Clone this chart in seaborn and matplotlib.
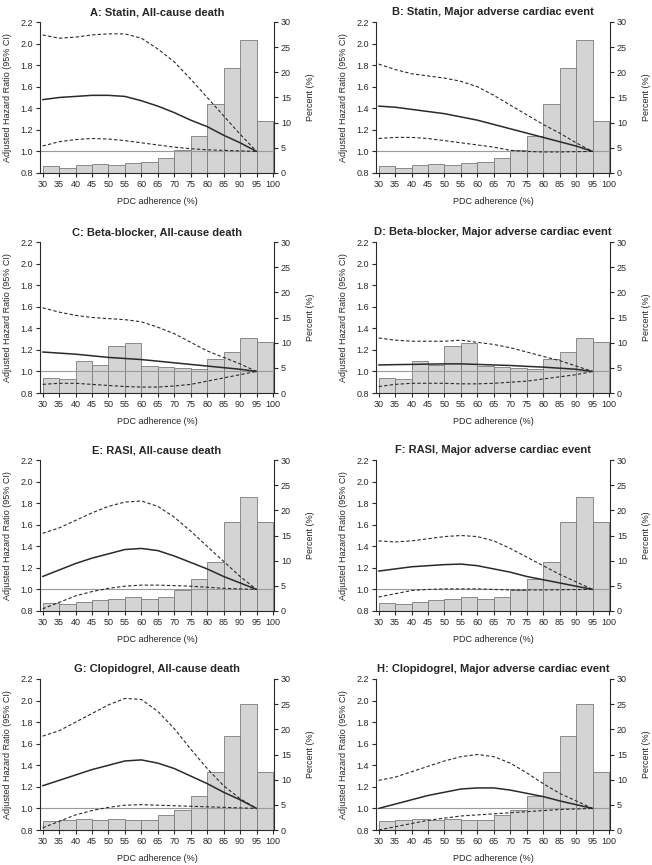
import numpy as np
import matplotlib
matplotlib.use("Agg")
import matplotlib.pyplot as plt
import seaborn as sns

# ── data ────────────────────────────────────────────────────
pdc = [30, 35, 40, 45, 50, 55, 60, 65, 70, 75, 80, 85, 90, 95]
bin_mid = [32.5, 37.5, 42.5, 47.5, 52.5, 57.5, 62.5, 67.5, 72.5, 77.5, 82.5, 87.5, 92.5, 97.5]
bin_edges = [30, 35, 40, 45, 50, 55, 60, 65, 70, 75, 80, 85, 90, 95, 100]

statin_pct = [1.3, 1.0, 1.5, 1.8, 1.5, 2.05, 2.25, 3.0, 4.6, 7.35, 13.8, 20.8, 26.4, 10.3]
beta_pct   = [3.0, 2.8, 6.4, 5.6, 9.3, 9.9, 5.4, 5.1, 5.0, 4.8, 6.8, 8.2, 10.9, 10.2]
rasi_pct   = [1.65, 1.45, 1.85, 2.25, 2.3, 2.7, 2.45, 2.75, 4.1, 6.45, 9.75, 17.7, 22.7, 17.7]
clop_pct   = [1.85, 1.95, 2.2, 2.0, 2.2, 1.95, 2.0, 3.0, 4.0, 6.8, 11.5, 18.7, 25.1, 11.55]

A_hr = [1.48, 1.50, 1.51, 1.52, 1.52, 1.51, 1.47, 1.42, 1.36, 1.29, 1.23, 1.15, 1.08, 1.0]
A_hi = [2.08, 2.05, 2.06, 2.08, 2.09, 2.09, 2.05, 1.95, 1.83, 1.67, 1.50, 1.33, 1.16, 1.0]
A_lo = [1.05, 1.09, 1.11, 1.12, 1.115, 1.10, 1.08, 1.06, 1.04, 1.025, 1.015, 1.01, 1.005, 1.0]

B_hr = [1.42, 1.41, 1.39, 1.37, 1.35, 1.32, 1.29, 1.25, 1.21, 1.17, 1.13, 1.09, 1.05, 1.0]
B_hi = [1.81, 1.76, 1.72, 1.70, 1.68, 1.65, 1.60, 1.52, 1.43, 1.34, 1.25, 1.17, 1.08, 1.0]
B_lo = [1.12, 1.13, 1.13, 1.12, 1.10, 1.08, 1.06, 1.04, 1.01, 1.0, 0.995, 0.995, 0.998, 1.0]

C_hr = [1.18, 1.17, 1.16, 1.145, 1.13, 1.12, 1.11, 1.095, 1.08, 1.065, 1.05, 1.035, 1.02, 1.0]
C_hi = [1.59, 1.55, 1.52, 1.50, 1.49, 1.48, 1.46, 1.41, 1.35, 1.27, 1.19, 1.13, 1.07, 1.0]
C_lo = [0.88, 0.89, 0.89, 0.88, 0.87, 0.86, 0.855, 0.855, 0.865, 0.88, 0.91, 0.94, 0.97, 1.0]

D_hr = [1.06, 1.063, 1.065, 1.068, 1.07, 1.07, 1.065, 1.06, 1.055, 1.047, 1.04, 1.03, 1.02, 1.0]
D_hi = [1.31, 1.29, 1.28, 1.28, 1.28, 1.29, 1.27, 1.25, 1.22, 1.18, 1.14, 1.10, 1.05, 1.0]
D_lo = [0.86, 0.88, 0.89, 0.89, 0.89, 0.885, 0.885, 0.89, 0.90, 0.91, 0.93, 0.95, 0.97, 1.0]

E_hr = [1.12, 1.18, 1.24, 1.29, 1.33, 1.37, 1.38, 1.36, 1.31, 1.25, 1.19, 1.12, 1.06, 1.0]
E_hi = [1.52, 1.57, 1.64, 1.71, 1.77, 1.81, 1.82, 1.77, 1.67, 1.54, 1.40, 1.26, 1.12, 1.0]
E_lo = [0.82, 0.88, 0.94, 0.98, 1.01, 1.03, 1.04, 1.04, 1.035, 1.03, 1.02, 1.01, 1.005, 1.0]

F_hr = [1.17, 1.19, 1.21, 1.22, 1.23, 1.235, 1.22, 1.19, 1.16, 1.12, 1.09, 1.06, 1.03, 1.0]
F_hi = [1.45, 1.44, 1.45, 1.47, 1.49, 1.50, 1.49, 1.45, 1.38, 1.30, 1.22, 1.14, 1.07, 1.0]
F_lo = [0.93, 0.96, 0.99, 1.0, 1.005, 1.005, 1.005, 1.0, 0.995, 0.995, 0.995, 0.997, 0.999, 1.0]

G_hr = [1.21, 1.26, 1.31, 1.36, 1.40, 1.44, 1.45, 1.42, 1.37, 1.30, 1.23, 1.15, 1.08, 1.0]
G_hi = [1.67, 1.72, 1.80, 1.88, 1.96, 2.02, 2.01, 1.90, 1.74, 1.55, 1.37, 1.21, 1.09, 1.0]
G_lo = [0.82, 0.88, 0.94, 0.98, 1.01, 1.03, 1.035, 1.03, 1.025, 1.02, 1.015, 1.01, 1.005, 1.0]

H_hr = [1.0, 1.04, 1.08, 1.12, 1.15, 1.18, 1.19, 1.19, 1.17, 1.14, 1.11, 1.07, 1.035, 1.0]
H_hi = [1.26, 1.29, 1.34, 1.39, 1.44, 1.48, 1.50, 1.48, 1.42, 1.33, 1.23, 1.14, 1.07, 1.0]
H_lo = [0.80, 0.83, 0.86, 0.89, 0.91, 0.93, 0.94, 0.95, 0.96, 0.97, 0.98, 0.99, 0.995, 1.0]

titles = ["A: Statin, All-cause death", "B: Statin, Major adverse cardiac event",
          "C: Beta-blocker, All-cause death", "D: Beta-blocker, Major adverse cardiac event",
          "E: RASI, All-cause death", "F: RASI, Major adverse cardiac event",
          "G: Clopidogrel, All-cause death", "H: Clopidogrel, Major adverse cardiac event"]
panels = [(statin_pct, A_hr, A_lo, A_hi), (statin_pct, B_hr, B_lo, B_hi),
          (beta_pct, C_hr, C_lo, C_hi),   (beta_pct, D_hr, D_lo, D_hi),
          (rasi_pct, E_hr, E_lo, E_hi),   (rasi_pct, F_hr, F_lo, F_hi),
          (clop_pct, G_hr, G_lo, G_hi),   (clop_pct, H_hr, H_lo, H_hi)]

# ── style ─────────────────────────────────────────────────
sns.set_style("ticks")
plt.rcParams["font.family"] = ["Liberation Sans", "DejaVu Sans"]
INK = "#2a2a2a"
plt.rcParams.update({"axes.edgecolor": INK, "xtick.color": INK, "ytick.color": INK,
                     "axes.linewidth": 0.8, "xtick.major.width": 0.8,
                     "ytick.major.width": 0.8, "xtick.major.size": 3,
                     "ytick.major.size": 3})

W, H = 652, 865
fig = plt.figure(figsize=(W / 100, H / 100), dpi=100)
col_left = [40, 376]
row_top  = [22, 242, 460, 679]
aw, ah   = 234, 151

for i, (title, (pct, hr, lo, hi)) in enumerate(zip(titles, panels)):
    r, c = divmod(i, 2)
    ax = fig.add_axes([col_left[c] / W, 1 - (row_top[r] + ah) / H, aw / W, ah / H])
    ax2 = ax.twinx()

    # histogram of adherence (right axis)
    sns.histplot(x=bin_mid, weights=pct, bins=bin_edges, ax=ax2,
                 color="#d4d4d4", edgecolor="#7a7a7a", linewidth=0.6, alpha=1)
    ax2.set_ylim(0, 30)
    ax2.set_yticks(range(0, 31, 5))
    ax2.set_ylabel("Percent (%)", fontsize=6.5, labelpad=11)
    ax2.tick_params(labelsize=6.5, pad=2)

    # HR curve + CI (left axis)
    ax.axhline(1.0, color="#9a9a9a", lw=0.8, zorder=1)
    sns.lineplot(x=pdc, y=hi, ax=ax, color=INK, lw=0.8, linestyle=(0, (3, 2)))
    sns.lineplot(x=pdc, y=lo, ax=ax, color=INK, lw=0.8, linestyle=(0, (3, 2)))
    sns.lineplot(x=pdc, y=hr, ax=ax, color=INK, lw=1.1)
    ax.set_ylim(0.8, 2.2)
    ax.set_yticks(np.arange(0.8, 2.21, 0.2))
    ax.set_yticklabels([f"{v:.1f}" for v in np.arange(0.8, 2.21, 0.2)])
    ax.set_xlim(29.2, 100.3)
    ax.set_xticks(bin_edges)
    ax.set_xlabel("PDC adherence (%)", fontsize=6.5, labelpad=6)
    ax.set_ylabel("Adjusted Hazard Ratio (95% CI)", fontsize=6.5, labelpad=6)
    ax.tick_params(labelsize=6.5, pad=2)
    ax.set_title(title, fontsize=8, fontweight="bold", pad=5)

    for a in (ax, ax2):
        a.spines["top"].set_visible(False)
    ax.spines["right"].set_visible(False)
    ax2.spines["left"].set_visible(False)
    ax2.spines["bottom"].set_visible(False)
    ax.set_zorder(ax2.get_zorder() + 1)
    ax.patch.set_visible(False)

fig.savefig("out.png", dpi=100)
plt.close()
